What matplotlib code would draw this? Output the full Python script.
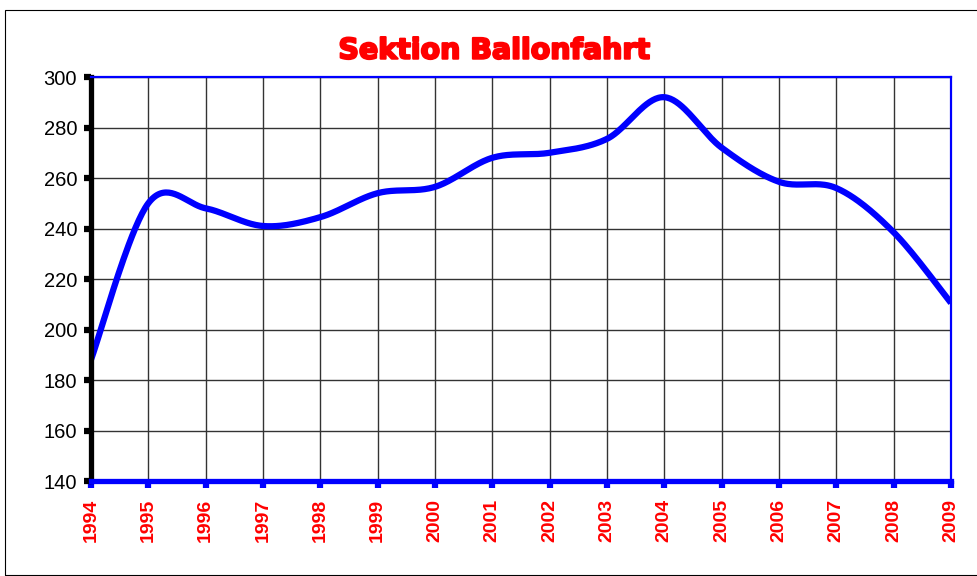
import matplotlib
matplotlib.use('Agg')
import matplotlib.pyplot as plt
import matplotlib.patches as patches
import matplotlib.patheffects as pe
import numpy as np

years = [1994, 1995, 1996, 1997, 1998, 1999, 2000, 2001,
         2002, 2003, 2004, 2005, 2006, 2007, 2008, 2009]
values = [188, 250, 248, 241, 244.5, 254, 256.5, 268,
          270, 275.5, 292, 272, 258.5, 256, 238.5, 210.5]
y_ticks = [140, 160, 180, 200, 220, 240, 260, 280, 300]
title = 'Sektion Ballonfahrt'

plt.rcParams['font.family'] = ['Liberation Sans', 'DejaVu Sans']


def smooth(xs, ys, n=40):
    # Excel-style smoothed line (cubic bezier through each point)
    xs = np.asarray(xs, float)
    ys = np.asarray(ys, float)
    px, py = [], []
    for i in range(len(xs) - 1):
        i0 = max(i - 1, 0)
        i3 = min(i + 2, len(xs) - 1)
        c1x = xs[i] + (xs[i + 1] - xs[i0]) / 6
        c1y = ys[i] + (ys[i + 1] - ys[i0]) / 6
        c2x = xs[i + 1] - (xs[i3] - xs[i]) / 6
        c2y = ys[i + 1] - (ys[i3] - ys[i]) / 6
        t = np.linspace(0, 1, n)
        a, b, c, d = (1 - t) ** 3, 3 * (1 - t) ** 2 * t, 3 * (1 - t) * t ** 2, t ** 3
        px.extend(a * xs[i] + b * c1x + c * c2x + d * xs[i + 1])
        py.extend(a * ys[i] + b * c1y + c * c2y + d * ys[i + 1])
    return px, py


fig = plt.figure(figsize=(9.77, 5.76), dpi=100)
ax = fig.add_axes([0.0931, 0.1649, 0.8803, 0.7014])

sx, sy = smooth(years, values)
ax.plot(sx, sy, color='#0000ff', lw=4.5, solid_capstyle='butt', zorder=3)

ax.set_xlim(years[0], years[-1])
ax.set_ylim(y_ticks[0], y_ticks[-1])
ax.set_xticks(years)
ax.set_yticks(y_ticks)
ax.set_xticklabels([str(y) for y in years], rotation=90, color='red',
                   fontweight='bold', fontsize=14)
ax.set_yticklabels([str(v) for v in y_ticks], fontsize=14.5)
ax.grid(True, color='#333333', lw=1.0)
ax.set_axisbelow(True)

for s in ['top', 'right']:
    ax.spines[s].set_color('#0000ff')
    ax.spines[s].set_linewidth(1.6)
ax.spines['left'].set_color('black')
ax.spines['left'].set_linewidth(3.8)
ax.spines['bottom'].set_color('#0000ff')
ax.spines['bottom'].set_linewidth(3.8)
for s in ax.spines.values():
    s.set_zorder(4)

ax.tick_params(axis='y', length=5, width=4.5, color='black', pad=5)
ax.tick_params(axis='x', length=5, width=4.5, color='#0000ff', pad=8)

fig.text(0.506, 0.912, title, color='red', fontsize=20.5, fontweight='heavy',
         family=['DejaVu Sans'], ha='center', va='center',
         path_effects=[pe.withStroke(linewidth=1.5, foreground='red')])

fig.patches.append(patches.Rectangle((5 / 977, 1 / 576), 980 / 977, 565 / 576,
                                     transform=fig.transFigure, fill=False,
                                     edgecolor='black', lw=0.8))

fig.savefig('out.png', dpi=100)
